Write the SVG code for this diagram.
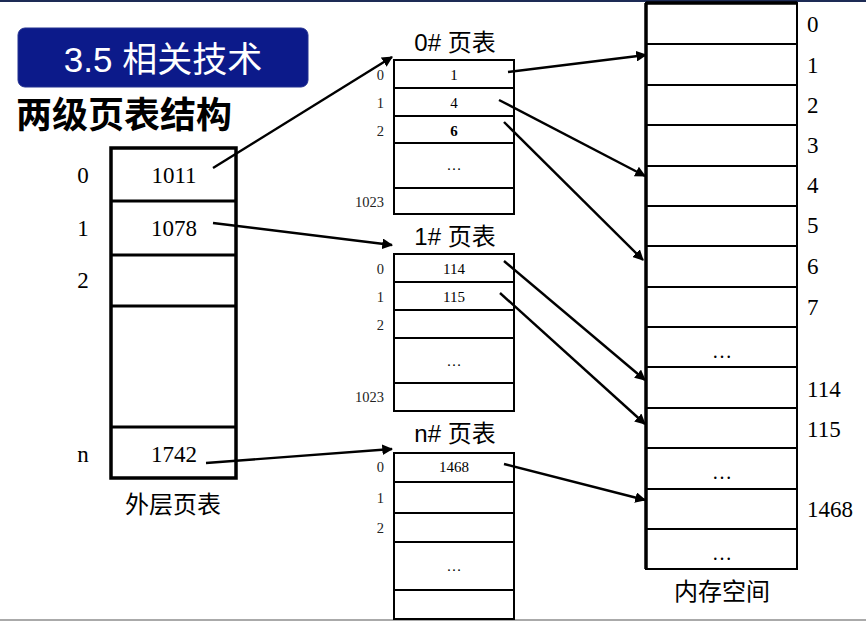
<svg xmlns="http://www.w3.org/2000/svg" width="866" height="623" viewBox="0 0 866 623">
<defs>
<marker id="ah" viewBox="0 0 10 10" refX="9" refY="5" markerWidth="4.5" markerHeight="4.5" orient="auto" markerUnits="strokeWidth">
<path d="M0,0 L10,5 L0,10 z" fill="#000"/>
</marker>
<style>
.cell{fill:#fff;stroke:#000;stroke-width:2}
.thick{fill:none;stroke:#000;stroke-width:3}
.sep{stroke:#000;stroke-width:2}
.serif{font-family:"Liberation Serif","Times New Roman",serif;fill:#000}
.cjk{font-family:"Liberation Sans","Noto Sans CJK SC",sans-serif;fill:#000}
.big{font-size:23px}
.small{font-size:14.5px;fill:#222}
.val{font-size:15px;text-anchor:middle}
.mem{font-size:23px}
.hdr{font-size:24px;text-anchor:middle}
.conn{stroke:#000;stroke-width:2.4;fill:none;marker-end:url(#ah)}
</style>
</defs>
<rect x="0" y="0" width="866" height="623" fill="#fff"/>
<rect x="0" y="0" width="866" height="2" fill="#1d2b55"/>
<rect x="0" y="619" width="866" height="2" fill="#aaa"/>

<g id="title">
<rect x="18" y="28" width="290" height="59" rx="7" fill="#0c1a8a" stroke="#23308f" stroke-width="1"/>
<text x="163" y="72" font-family="Liberation Sans,'Noto Sans CJK SC',sans-serif" font-size="35" fill="#fff" text-anchor="middle">3.5 相关技术</text>
</g>
<g id="subtitle">
<text x="16" y="128" font-family="'Noto Sans CJK SC',sans-serif" font-size="36" font-weight="bold" fill="#000">两级页表结构</text>
</g>

<g id="outer-table">
<rect x="111" y="148" width="125" height="330" fill="#fff" stroke="#000" stroke-width="3.5"/>
<line x1="111" y1="201" x2="236" y2="201" class="thick"/>
<line x1="111" y1="255" x2="236" y2="255" class="thick"/>
<line x1="111" y1="306" x2="236" y2="306" class="thick"/>
<line x1="111" y1="427" x2="236" y2="427" class="thick"/>
<text x="83" y="183" class="serif big" text-anchor="middle">0</text>
<text x="83" y="236" class="serif big" text-anchor="middle">1</text>
<text x="83" y="288" class="serif big" text-anchor="middle">2</text>
<text x="83" y="462" class="serif big" text-anchor="middle">n</text>
<text x="174" y="183" class="serif big" text-anchor="middle">1011</text>
<text x="174" y="236" class="serif big" text-anchor="middle">1078</text>
<text x="174" y="462" class="serif big" text-anchor="middle">1742</text>
<text x="173" y="513" class="cjk" font-size="24" text-anchor="middle" fill="#222">外层页表</text>
</g>

<g id="pt0">
<text x="455" y="51" class="cjk hdr">0# 页表</text>
<rect x="394" y="60" width="120" height="154" class="cell"/>
<line x1="394" y1="88" x2="514" y2="88" class="sep"/>
<line x1="394" y1="116" x2="514" y2="116" class="sep"/>
<line x1="394" y1="143" x2="514" y2="143" class="sep"/>
<line x1="394" y1="188" x2="514" y2="188" class="sep"/>
<text x="384" y="80" class="serif small" text-anchor="end">0</text>
<text x="384" y="108" class="serif small" text-anchor="end">1</text>
<text x="384" y="136" class="serif small" text-anchor="end">2</text>
<text x="384" y="207" class="serif small" text-anchor="end">1023</text>
<text x="454" y="80" class="serif val">1</text>
<text x="454" y="108" class="serif val">4</text>
<text x="454" y="136" class="serif val" font-weight="bold">6</text>
<text x="454" y="170" class="serif val">…</text>
</g>

<g id="pt1">
<text x="455" y="245" class="cjk hdr">1# 页表</text>
<rect x="394" y="254" width="120" height="157" class="cell"/>
<line x1="394" y1="282" x2="514" y2="282" class="sep"/>
<line x1="394" y1="310" x2="514" y2="310" class="sep"/>
<line x1="394" y1="338" x2="514" y2="338" class="sep"/>
<line x1="394" y1="383" x2="514" y2="383" class="sep"/>
<text x="384" y="274" class="serif small" text-anchor="end">0</text>
<text x="384" y="302" class="serif small" text-anchor="end">1</text>
<text x="384" y="330" class="serif small" text-anchor="end">2</text>
<text x="384" y="402" class="serif small" text-anchor="end">1023</text>
<text x="454" y="274" class="serif val">114</text>
<text x="454" y="302" class="serif val">115</text>
<text x="454" y="366" class="serif val">…</text>
</g>

<g id="ptn">
<text x="455" y="442" class="cjk hdr">n# 页表</text>
<rect x="394" y="453" width="120" height="166" class="cell"/>
<line x1="394" y1="482" x2="514" y2="482" class="sep"/>
<line x1="394" y1="513" x2="514" y2="513" class="sep"/>
<line x1="394" y1="542" x2="514" y2="542" class="sep"/>
<line x1="394" y1="590" x2="514" y2="590" class="sep"/>
<text x="384" y="472" class="serif small" text-anchor="end">0</text>
<text x="384" y="503" class="serif small" text-anchor="end">1</text>
<text x="384" y="533" class="serif small" text-anchor="end">2</text>
<text x="454" y="472" class="serif val">1468</text>
<text x="454" y="571" class="serif val">…</text>
</g>

<g id="memory">
<rect x="646" y="3" width="151" height="566" fill="#fff" stroke="#000" stroke-width="2"/>
<line x1="646" y1="3" x2="646" y2="569" stroke="#000" stroke-width="3.5"/>
<line x1="646" y1="3" x2="797" y2="3" stroke="#000" stroke-width="3.5"/>
<g class="sep">
<line x1="646" y1="44" x2="797" y2="44"/>
<line x1="646" y1="85" x2="797" y2="85"/>
<line x1="646" y1="125" x2="797" y2="125"/>
<line x1="646" y1="166" x2="797" y2="166"/>
<line x1="646" y1="206" x2="797" y2="206"/>
<line x1="646" y1="246" x2="797" y2="246"/>
<line x1="646" y1="287" x2="797" y2="287"/>
<line x1="646" y1="327" x2="797" y2="327"/>
<line x1="646" y1="367" x2="797" y2="367"/>
<line x1="646" y1="408" x2="797" y2="408"/>
<line x1="646" y1="448" x2="797" y2="448"/>
<line x1="646" y1="489" x2="797" y2="489"/>
<line x1="646" y1="529" x2="797" y2="529"/>
</g>
<text x="722" y="358" class="serif" font-size="20" text-anchor="middle">…</text>
<text x="722" y="479" class="serif" font-size="20" text-anchor="middle">…</text>
<text x="722" y="560" class="serif" font-size="20" text-anchor="middle">…</text>
<text x="807" y="32" class="serif mem">0</text>
<text x="807" y="73" class="serif mem">1</text>
<text x="807" y="113" class="serif mem">2</text>
<text x="807" y="153" class="serif mem">3</text>
<text x="807" y="193" class="serif mem">4</text>
<text x="807" y="233" class="serif mem">5</text>
<text x="807" y="274" class="serif mem">6</text>
<text x="807" y="315" class="serif mem">7</text>
<text x="807" y="397" class="serif mem">114</text>
<text x="807" y="437" class="serif mem">115</text>
<text x="807" y="517" class="serif mem">1468</text>
<text x="722" y="600" class="cjk" font-size="24" text-anchor="middle" fill="#222">内存空间</text>
</g>

<g id="connectors">
<line x1="213" y1="168" x2="392" y2="57" class="conn"/>
<line x1="213" y1="223" x2="392" y2="245" class="conn"/>
<line x1="206" y1="463" x2="392" y2="449" class="conn"/>
<line x1="508" y1="72" x2="646" y2="55" class="conn"/>
<line x1="499" y1="100" x2="645" y2="176" class="conn"/>
<line x1="504" y1="122" x2="643" y2="260" class="conn"/>
<line x1="504" y1="261" x2="645" y2="380" class="conn"/>
<line x1="500" y1="293" x2="645" y2="424" class="conn"/>
<line x1="504" y1="464" x2="645" y2="500" class="conn"/>
</g>
</svg>
